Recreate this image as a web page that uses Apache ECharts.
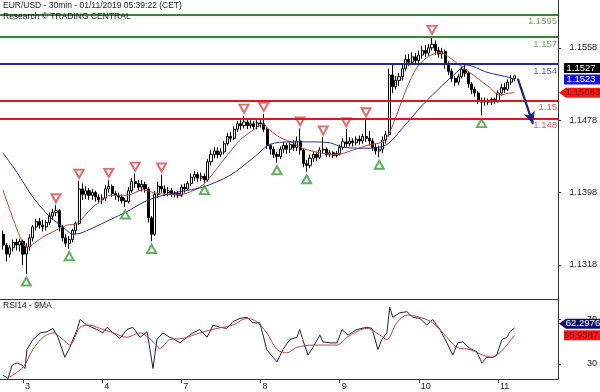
<!DOCTYPE html>
<html><head><meta charset="utf-8">
<script src="https://cdn.jsdelivr.net/npm/echarts@6/dist/echarts.min.js"></script>
<style>html,body{margin:0;padding:0;background:#fff}#c{width:600px;height:392px}</style>
</head><body><div id="c"></div>
<script>
// x = trading hours since 3 Jan 00:00 (weekend removed), one bar per hour
const FIRST_HOUR = -6;
const opens  = [1.1352,1.1340,1.1330,1.1337,1.1343,1.1340,1.1344,1.1330,1.1338,1.1348,1.1360,1.1366,1.1362,1.1360,1.1365,1.1372,1.1376,1.1378,1.1360,1.1348,1.1342,1.1346,1.1356,1.1364,1.1402,1.1396,1.1400,1.1395,1.1398,1.1393,1.1390,1.1392,1.1402,1.1405,1.1397,1.1395,1.1393,1.1389,1.1388,1.1400,1.1410,1.1408,1.1404,1.1407,1.1402,1.1370,1.1352,1.1396,1.1405,1.1402,1.1398,1.1400,1.1396,1.1397,1.1395,1.1404,1.1402,1.1408,1.1415,1.1418,1.1414,1.1416,1.1412,1.1432,1.1440,1.1444,1.1440,1.1443,1.1452,1.1460,1.1458,1.1468,1.1474,1.1472,1.1476,1.1472,1.1474,1.1471,1.1475,1.1474,1.1468,1.1450,1.1446,1.1440,1.1438,1.1446,1.1450,1.1446,1.1451,1.1448,1.1455,1.1445,1.1430,1.1428,1.1436,1.1440,1.1437,1.1445,1.1446,1.1440,1.1442,1.1439,1.1441,1.1448,1.1454,1.1452,1.1455,1.1453,1.1457,1.1455,1.1460,1.1458,1.1455,1.1448,1.1444,1.1446,1.1456,1.1462,1.1528,1.1515,1.1522,1.1526,1.1535,1.1545,1.1542,1.1548,1.1544,1.1550,1.1555,1.1552,1.1558,1.1562,1.1555,1.1551,1.1554,1.1540,1.1532,1.1524,1.1520,1.1526,1.1534,1.1530,1.1518,1.1512,1.1508,1.1500,1.1498,1.1500,1.1498,1.1501,1.1499,1.1508,1.1514,1.1512,1.1520,1.1524];
const closes = [1.1340,1.1330,1.1337,1.1343,1.1340,1.1344,1.1330,1.1338,1.1348,1.1360,1.1366,1.1362,1.1360,1.1365,1.1372,1.1376,1.1378,1.1360,1.1348,1.1342,1.1346,1.1356,1.1364,1.1402,1.1396,1.1400,1.1395,1.1398,1.1393,1.1390,1.1392,1.1402,1.1405,1.1397,1.1395,1.1393,1.1389,1.1388,1.1400,1.1410,1.1408,1.1404,1.1407,1.1402,1.1370,1.1352,1.1396,1.1405,1.1402,1.1398,1.1400,1.1396,1.1397,1.1395,1.1404,1.1402,1.1408,1.1415,1.1418,1.1414,1.1416,1.1412,1.1432,1.1440,1.1444,1.1440,1.1443,1.1452,1.1460,1.1458,1.1468,1.1474,1.1472,1.1476,1.1472,1.1474,1.1471,1.1475,1.1474,1.1468,1.1450,1.1446,1.1440,1.1438,1.1446,1.1450,1.1446,1.1451,1.1448,1.1455,1.1445,1.1430,1.1428,1.1436,1.1440,1.1437,1.1445,1.1446,1.1440,1.1442,1.1439,1.1441,1.1448,1.1454,1.1452,1.1455,1.1453,1.1457,1.1455,1.1460,1.1458,1.1455,1.1448,1.1444,1.1446,1.1456,1.1462,1.1528,1.1515,1.1522,1.1526,1.1535,1.1545,1.1542,1.1548,1.1544,1.1550,1.1555,1.1552,1.1558,1.1562,1.1555,1.1551,1.1554,1.1540,1.1532,1.1524,1.1520,1.1526,1.1534,1.1530,1.1518,1.1512,1.1508,1.1500,1.1498,1.1500,1.1498,1.1501,1.1499,1.1508,1.1514,1.1512,1.1520,1.1524,1.1527];
const lows   = [1.1335,1.1322,1.1326,1.1333,1.1334,1.1333,1.1318,1.1308,1.1334,1.1344,1.1356,1.1358,1.1355,1.1356,1.1362,1.1368,1.1372,1.1355,1.1344,1.1338,1.1336,1.1343,1.1352,1.1362,1.1390,1.1391,1.1390,1.1390,1.1388,1.1386,1.1385,1.1389,1.1398,1.1393,1.1390,1.1388,1.1386,1.1382,1.1386,1.1398,1.1403,1.1400,1.1399,1.1398,1.1365,1.1344,1.1350,1.1392,1.1398,1.1394,1.1394,1.1393,1.1393,1.1392,1.1393,1.1398,1.1400,1.1405,1.1411,1.1410,1.1411,1.1409,1.1410,1.1428,1.1436,1.1436,1.1437,1.1440,1.1450,1.1454,1.1456,1.1465,1.1467,1.1469,1.1468,1.1469,1.1467,1.1468,1.1470,1.1465,1.1446,1.1440,1.1436,1.1431,1.1435,1.1442,1.1441,1.1442,1.1444,1.1444,1.1440,1.1426,1.1421,1.1425,1.1432,1.1433,1.1435,1.1441,1.1437,1.1437,1.1436,1.1437,1.1439,1.1445,1.1448,1.1449,1.1449,1.1450,1.1451,1.1452,1.1454,1.1450,1.1444,1.1440,1.1437,1.1442,1.1452,1.1460,1.1508,1.1512,1.1516,1.1522,1.1532,1.1538,1.1539,1.1540,1.1541,1.1546,1.1548,1.1549,1.1555,1.1550,1.1547,1.1546,1.1535,1.1528,1.1520,1.1516,1.1517,1.1524,1.1526,1.1514,1.1507,1.1504,1.1496,1.1483,1.1494,1.1495,1.1495,1.1496,1.1497,1.1505,1.1508,1.1510,1.1517,1.1521];
const highs  = [1.1356,1.1342,1.1340,1.1346,1.1347,1.1347,1.1346,1.1342,1.1352,1.1362,1.1369,1.1370,1.1368,1.1368,1.1376,1.1380,1.1384,1.1380,1.1362,1.1352,1.1350,1.1358,1.1366,1.1411,1.1408,1.1405,1.1403,1.1402,1.1400,1.1396,1.1396,1.1406,1.1412,1.1407,1.1400,1.1398,1.1396,1.1392,1.1404,1.1414,1.1419,1.1412,1.1412,1.1410,1.1404,1.1372,1.1400,1.1410,1.1418,1.1406,1.1404,1.1403,1.1400,1.1400,1.1407,1.1408,1.1411,1.1419,1.1422,1.1421,1.1420,1.1419,1.1435,1.1445,1.1448,1.1448,1.1447,1.1455,1.1464,1.1465,1.1471,1.1477,1.1478,1.1483,1.1479,1.1478,1.1477,1.1478,1.1479,1.1485,1.1470,1.1452,1.1449,1.1443,1.1449,1.1454,1.1453,1.1455,1.1456,1.1460,1.1469,1.1447,1.1434,1.1440,1.1443,1.1443,1.1448,1.1459,1.1448,1.1445,1.1444,1.1444,1.1451,1.1458,1.1468,1.1459,1.1458,1.1460,1.1461,1.1463,1.1479,1.1466,1.1458,1.1452,1.1450,1.1460,1.1466,1.1535,1.1541,1.1527,1.1530,1.1540,1.1550,1.1551,1.1553,1.1552,1.1555,1.1560,1.1561,1.1562,1.1570,1.1566,1.1559,1.1558,1.1556,1.1543,1.1535,1.1527,1.1529,1.1538,1.1539,1.1532,1.1520,1.1515,1.1510,1.1503,1.1503,1.1502,1.1503,1.1503,1.1511,1.1518,1.1519,1.1523,1.1528,1.1527];

const maRedHours  = [-6.1,-0.9,1.2,6.1,10.3,13.3,16.4,20.3,23.3,26.4,31.5,36.4,40.6,47.6,53.6,56.7,62.1,65.8,69.7,72.7,74.8,77.9,81.8,84.8,90.0,95.2,100.0,105.2,109.1,111.2,113.3,116.4,119.4,122.4,126.4,129.4,133.3,137.6,141.5,144.5,147.6,149];
const maRedValues = [1.1401,1.1349,1.1338,1.1349,1.1357,1.1362,1.1364,1.1379,1.1388,1.1395,1.1395,1.1401,1.1397,1.1396,1.1404,1.1415,1.1440,1.1456,1.1467,1.1474,1.1467,1.1459,1.1453,1.1447,1.1442,1.1440,1.1445,1.1451,1.1454,1.1465,1.1484,1.1514,1.1536,1.1547,1.1553,1.1547,1.1536,1.1525,1.1514,1.1506,1.1508,1.15083];
const maBlueHours  = [-6.1,-1.8,3.0,8.2,12.1,15.2,17.3,21.2,26.4,31.5,36.4,40.6,47.6,54.5,62.7,69.7,74.8,80.9,87.0,93.0,97.0,105.2,110.3,115.2,121.2,127.3,131.5,134.5,140.6,147.6,149];
const maBlueValues = [1.1442,1.1420,1.1393,1.1371,1.1360,1.1352,1.1353,1.1359,1.1368,1.1377,1.1387,1.1393,1.1399,1.1404,1.1417,1.1436,1.1451,1.1454,1.1454,1.1453,1.1448,1.1447,1.1451,1.1470,1.1495,1.1517,1.1531,1.1539,1.1531,1.1525,1.1523];

const rsiHours  = [-6.1,-4.5,-3.3,-1.8,-0.3,0.6,1.2,3.0,5.2,7.3,9.1,10.6,12.7,14.2,16.4,17.3,19.4,22.4,24.2,25.5,27.3,29.4,31.5,33.3,35.5,37.6,38.5,39.4,40.6,42.4,44.5,45.5,47.6,49.7,51.5,53.6,55.8,57.6,59.7,61.8,63.6,65.8,67.9,69.7,71.8,73.9,75.8,77.0,78.8,80.9,83.0,83.9,84.8,86.4,87.9,90.0,90.9,93.0,95.2,96.7,98.5,101.2,104.2,105.8,107.6,108.8,110.3,111.2,112.1,114.2,116.4,118.2,120.3,122.4,124.2,126.4,128.5,130.3,131.8,133.3,135.5,137.6,139.1,140.6,142.4,143.6,145.2,146.7,147.6,149];
const rsiValues = [20,17,29,31,29,26,43,52,58,59,62,54,36,45,61,70,65,61,58,63,58,53,61,63,54,59,43,26,52,58,54,53,49,54,58,61,54,65,63,62,68,71,72,67,67,43,36,32,43,52,54,61,52,38,45,56,50,49,49,61,56,61,63,62,43,52,58,81,72,76,77,72,71,65,70,61,49,38,49,50,44,41,31,36,36,38,52,54,59,62.2976];
const rsiMaHours  = [-4.8,0,3.0,6.1,9.1,12.1,14.2,17.3,20.3,23.3,27.3,31.5,35.5,39.4,41.5,44.5,48.5,53.6,58.8,63.6,67.9,70.9,73.9,77.0,80.0,83.0,87.9,95.2,98.2,104.2,108.2,110.3,113.3,116.4,120.3,124.2,128.5,131.5,135.5,139.4,142.4,144.5,146.7,149];
const rsiMaValues = [17,27,43,54,58,52,47,63,65,62,58,54,58,50,44,52,53,58,62,65,71,68,58,43,40,45,47,47,54,62,56,52,67,74,72,67,54,45,43,38,36,40,47,55.9387];

const highHours  = [10,17,26,34,42,67,73,84,91,98,104,124];
const highValues = [1.1384,1.1411,1.1412,1.1419,1.1418,1.1483,1.1485,1.1469,1.1459,1.1468,1.1479,1.1570];
const lowHours   = [1,14,31,39,55,77,86,108,139];
const lowValues  = [1.1308,1.1336,1.1382,1.1344,1.1409,1.1431,1.1421,1.1437,1.1483];
const lastHighHour = 148, lastHighValue = 1.1528;

const levelValues = [1.1595,1.157,1.154,1.15,1.148];
const levelLabels = ['1.1595','1.157','1.154','1.15','1.148'];
const levelColors = ['#2f8a2f','#2f8a2f','#22288c','#e01818','#e01818'];
const levelTextColors = ['#74ab62','#74ab62','#5866b0','#e05a5a','#e05a5a'];
const forecastFrom = [150, 1.1524], forecastTo = [154.6, 1.1474];

const dayTicks  = [0,24,48,72,96,120,144];
const dayLabels = ['3','4','7','8','9','10','11'];
const priceTicks = [1.1318,1.1398,1.1478,1.1558];
const rsiTicks = [30,70];

const FONT = 'Liberation Sans, Arial, sans-serif';
const xMin = -6.97, xMax = 162.19;
const pairs = (xs, ys) => xs.map((x, i) => [x, ys[i]]);
const bars = opens.map((o, i) => [FIRST_HOUR + i, o, closes[i], lows[i], highs[i]]);

const chart = echarts.init(document.getElementById('c'), null, {renderer: 'canvas'});
const option = {
  animation: false,
  textStyle: {fontFamily: FONT},
  title: {
    text: 'EUR/USD - 30min - 01/11/2019 05:39:22 (CET)',
    subtext: 'Research \u00A9 TRADING CENTRAL',
    left: 3, top: 1, padding: 0, itemGap: 0.5,
    textStyle: {fontSize: 8.5, fontWeight: 'normal', color: '#222', lineHeight: 10, fontFamily: FONT},
    subtextStyle: {fontSize: 8.5, color: '#222', lineHeight: 10, backgroundColor: '#fff', fontFamily: FONT}
  },
  grid: [
    {left: 0, top: 0, width: 558, height: 299},
    {left: 0, top: 299, width: 558, height: 80}
  ],
  xAxis: [
    {type: 'value', gridIndex: 0, min: xMin, max: xMax,
     axisLine: {show: true, onZero: false, lineStyle: {color: '#333', width: 1}},
     axisTick: {show: false}, axisLabel: {show: false}, splitLine: {show: false}},
    {type: 'value', gridIndex: 1, min: xMin, max: xMax,
     axisLine: {show: true, onZero: false, lineStyle: {color: '#333', width: 1}},
     axisTick: {show: true, customValues: dayTicks, length: 4, lineStyle: {color: '#333'}},
     axisLabel: {customValues: dayTicks, formatter: v => dayLabels[dayTicks.indexOf(Math.round(v))],
                 align: 'left', margin: 3, padding: [0, 0, 0, 2], color: '#222', fontSize: 9, fontFamily: FONT},
     splitLine: {show: false}}
  ],
  yAxis: [
    {type: 'value', gridIndex: 0, position: 'right', min: 1.12804, max: 1.16108,
     axisLine: {show: true, onZero: false, lineStyle: {color: '#333', width: 1}},
     axisTick: {show: true, customValues: priceTicks, length: 3, lineStyle: {color: '#333'}},
     axisLabel: {customValues: priceTicks, formatter: v => v.toFixed(4), align: 'right', margin: 39,
                 color: '#222', fontSize: 9, fontFamily: FONT},
     splitLine: {show: false}},
    {type: 'value', gridIndex: 1, position: 'right', min: 16.52, max: 88.43,
     axisLine: {show: true, onZero: false, lineStyle: {color: '#333', width: 1}},
     axisTick: {show: true, customValues: rsiTicks, length: 3, lineStyle: {color: '#333'}},
     axisLabel: {customValues: rsiTicks, formatter: v => String(Math.round(v)), align: 'right', margin: 39,
                 color: '#222', fontSize: 9, fontFamily: FONT},
     splitLine: {show: false}}
  ],
  series: [
    {
      type: 'candlestick', xAxisIndex: 0, yAxisIndex: 0,
      dimensions: ['t', 'open', 'close', 'lowest', 'highest'],
      encode: {x: 't', y: ['open', 'close', 'lowest', 'highest']},
      data: bars, barWidth: 2.6, large: false,
      itemStyle: {color: '#ffffff', color0: '#000000', borderColor: '#000000', borderColor0: '#000000', borderWidth: 1},
      markLine: {
        silent: true, symbol: 'none', animation: false, precision: 6,
        data: levelValues.map((v, i) => ({
          yAxis: v,
          lineStyle: {color: levelColors[i], width: 2, type: 'solid'},
          label: {show: true, position: 'insideEndBottom', formatter: levelLabels[i], color: levelTextColors[i],
                  fontSize: 9.5, fontFamily: FONT, distance: [1, 2]}
        }))
      }
    },
    {type: 'line', name: 'maRed', xAxisIndex: 0, yAxisIndex: 0, data: pairs(maRedHours, maRedValues),
     smooth: 0.3, showSymbol: false, symbol: 'none', z: 3, lineStyle: {color: '#b8463c', width: 1}},
    {type: 'line', name: 'maBlue', xAxisIndex: 0, yAxisIndex: 0, data: pairs(maBlueHours, maBlueValues),
     smooth: 0.3, showSymbol: false, symbol: 'none', z: 3, lineStyle: {color: '#2c2c8c', width: 1},
     markLine: {silent: true, animation: false, precision: 6, symbol: ['none', 'arrow'], symbolSize: [9, 12],
       lineStyle: {color: '#1c2380', width: 2.2, type: 'solid'}, label: {show: false},
       data: [[{coord: forecastFrom}, {coord: forecastTo}]]}},
    {type: 'scatter', xAxisIndex: 0, yAxisIndex: 0, data: pairs(highHours, highValues), z: 4,
     symbol: 'emptyTriangle', symbolRotate: 180, symbolSize: [9, 8], symbolOffset: [0, -7],
     itemStyle: {color: '#d84a4a', borderWidth: 1}},
    {type: 'scatter', xAxisIndex: 0, yAxisIndex: 0, data: pairs(lowHours, lowValues), z: 4,
     symbol: 'emptyTriangle', symbolSize: [9, 8], symbolOffset: [0, 7.5],
     itemStyle: {color: '#3c9a3c', borderWidth: 1}},
    {type: 'scatter', xAxisIndex: 0, yAxisIndex: 0, z: 5, silent: true,
     data: pairs(highHours, highValues).concat([[lastHighHour, lastHighValue]]),
     symbol: 'circle', symbolSize: 1, itemStyle: {opacity: 0},
     label: {show: true, position: [-3, -17], align: 'left', verticalAlign: 'middle',
             formatter: p => p.value[1].toFixed(4), color: '#222', fontSize: 8.5, fontFamily: FONT}},
    {type: 'scatter', xAxisIndex: 0, yAxisIndex: 0, z: 5, silent: true,
     data: pairs(lowHours, lowValues),
     symbol: 'circle', symbolSize: 1, itemStyle: {opacity: 0},
     label: {show: true, position: [-2, 19], align: 'left', verticalAlign: 'middle',
             formatter: p => p.value[1].toFixed(4), color: '#222', fontSize: 8.5, fontFamily: FONT}},
    {type: 'line', xAxisIndex: 1, yAxisIndex: 1, data: pairs(rsiHours, rsiValues), showSymbol: false, symbol: 'none',
     lineStyle: {color: '#1e1e44', width: 1}},
    {type: 'line', xAxisIndex: 1, yAxisIndex: 1, data: pairs(rsiMaHours, rsiMaValues), showSymbol: false, symbol: 'none',
     smooth: 0.3, lineStyle: {color: '#b8463c', width: 1}}
  ]
};
chart.setOption(option);

// right-hand value boxes (positions from the axis scales, stacked upward when they collide)
const yMain = v => chart.convertToPixel({xAxisIndex: 0, yAxisIndex: 0}, [0, v])[1];
const yRsi = v => chart.convertToPixel({xAxisIndex: 1, yAxisIndex: 1}, [0, v])[1];
function stack(items, gap) {
  items.sort((a, b) => b.y - a.y);
  for (let i = 1; i < items.length; i++) if (items[i].y > items[i - 1].y - gap) items[i].y = items[i - 1].y - gap;
  return items;
}
const lastClose = closes[closes.length - 1];
const mainBoxes = stack([
  {y: yMain(lastClose), text: lastClose.toFixed(4), bg: '#000', fg: '#fff', arrow: false},
  {y: yMain(maBlueValues[maBlueValues.length - 1]), text: maBlueValues[maBlueValues.length - 1].toFixed(4), bg: '#1212e0', fg: '#fff', arrow: false},
  {y: yMain(maRedValues[maRedValues.length - 1]), text: maRedValues[maRedValues.length - 1].toFixed(5), bg: '#ee1a1a', fg: '#9a0c0c', arrow: true}
], 11.5);
const rsiBoxes = stack([
  {y: yRsi(rsiValues[rsiValues.length - 1]), text: rsiValues[rsiValues.length - 1].toFixed(4), bg: '#0c0c70', fg: '#fff', arrow: true},
  {y: yRsi(rsiMaValues[rsiMaValues.length - 1]), text: rsiMaValues[rsiMaValues.length - 1].toFixed(4), bg: '#ee1a1a', fg: '#9a0c0c', arrow: false}
], 11.5);
const graphics = [];
mainBoxes.concat(rsiBoxes).forEach(b => {
  const h = 5;
  if (b.arrow) {
    graphics.push({type: 'polygon', z: 20, shape: {points: [[559, b.y], [566, b.y - h], [600, b.y - h], [600, b.y + h], [566, b.y + h]]}, style: {fill: b.bg}});
  } else {
    graphics.push({type: 'rect', z: 20, shape: {x: 564, y: b.y - h, width: 36, height: 2 * h}, style: {fill: b.bg}});
  }
  graphics.push({type: 'text', z: 21, x: b.arrow ? 583 : 581, y: b.y,
    style: {text: b.text, fill: b.fg, fontSize: 9.5, fontFamily: FONT, align: 'center', verticalAlign: 'middle'}});
});
graphics.push({type: 'text', z: 21, x: 3, y: 305.5,
  style: {text: 'RSI14 - 9MA', fill: '#222', fontSize: 8.5, fontFamily: FONT, align: 'left', verticalAlign: 'middle'}});
chart.setOption({graphic: graphics});
</script></body></html>
